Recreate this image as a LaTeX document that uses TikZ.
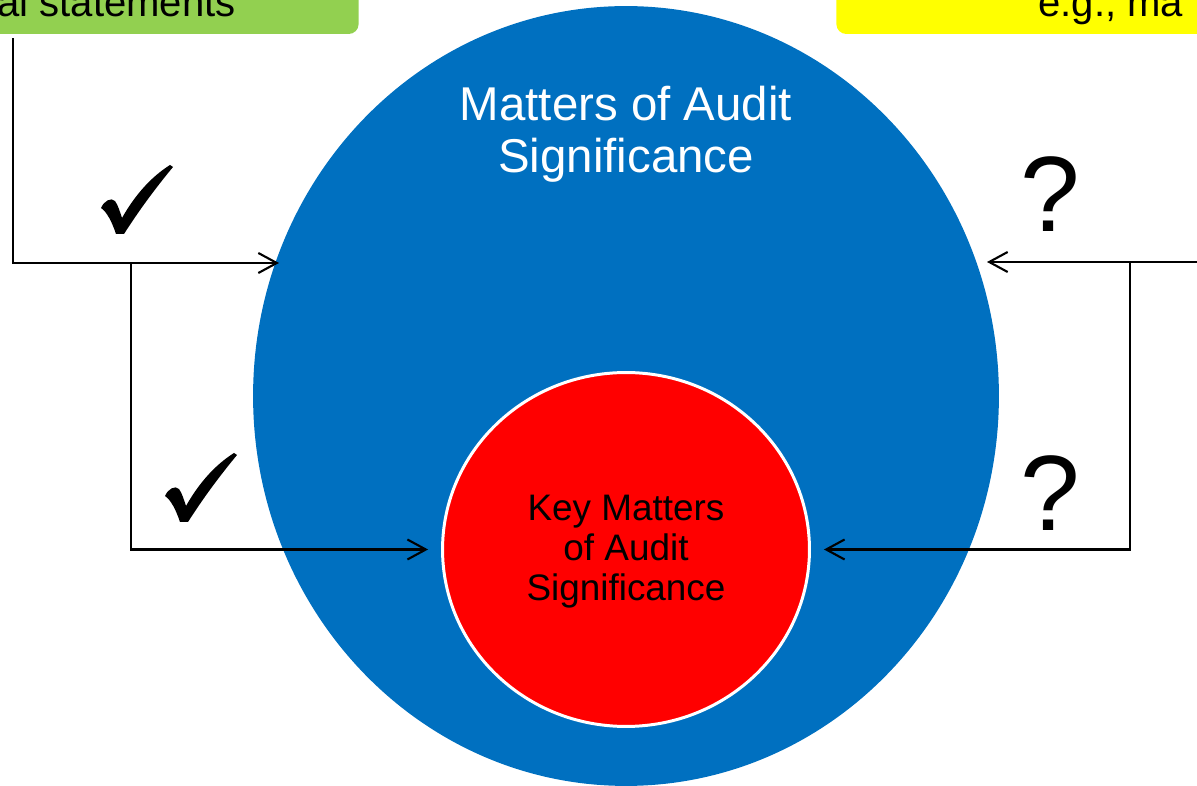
\documentclass[tikz,border=0pt]{standalone}
\usepackage{fontspec}
\setmainfont{Liberation Sans}
\usetikzlibrary{shapes.geometric,arrows.meta}

\definecolor{sigblue}{HTML}{0070C0}
\definecolor{fsgreen}{HTML}{92D050}
\definecolor{egyellow}{HTML}{FFFF00}

\tikzset{
    chkmark/.pic={
        \fill (-36,8) .. controls (-33,1) and (-26,-3) .. (-22,1) .. controls (-19,5) and (-17,12) .. (-15,18)
            .. controls (-2,-5) and (14,-23) .. (33,-35) -- (36,-33)
            .. controls (17,-10) and (1,12) .. (-13,34) -- (-21,34)
            .. controls (-25,22) and (-30,12) .. (-36,8) -- cycle;
    }
}

\begin{document}
\begin{tikzpicture}[x=0.02cm, y=-0.02cm,
    topbox/.style={rounded corners=0.2cm, inner ysep=0.34cm, text depth=0pt, font=\fontsize{22.8}{27}\selectfont},
    conn/.style={line width=1.2pt, -{Straight Barb[length=10.5pt,width=11.4pt]}},
    qmark/.style={inner sep=0pt, anchor=base, font=\fontsize{61}{61}\selectfont}]
    \useasboundingbox (0,0) rectangle (1197,786);
            % boxes at the top, cut by the page
            \node[topbox, fill=fsgreen, inner xsep=2.46cm, anchor=base east] (fsbox) at (359,17) {al statements};
            \node[topbox, fill=egyellow, inner xsep=4.04cm, anchor=base west] (egbox) at (836,17) {e.g., ma};
            % the two sets
            \node[ellipse, fill=sigblue, minimum width=14.92cm, minimum height=15.6cm, inner sep=0pt, outer sep=0pt] (masig) at (626,396) {};
            \node[anchor=north, inner sep=0pt, align=center, text=white, font=\fontsize{27}{29.6}\selectfont] (masigtext) at (626,86) {Matters of Audit\\Significance};
            \node[ellipse, fill=red, draw=white, line width=1.7pt, minimum width=7.34cm, minimum height=7.08cm, inner sep=0pt] (kmasig) at (626,549.5) {};
            \node[align=center, inner sep=0pt, font=\fontsize{21}{22.8}\selectfont] (kmasigtext) at (626,552) {Key Matters\\of Audit\\Significance};
            % connectors
            \coordinate (lbend) at (13,263);
            \coordinate (lsplit) at (131,263);
            \coordinate (lhit) at (279,263);
            \coordinate (rin) at (1210,262);
            \coordinate (rsplit) at (1130,262);
            \coordinate (rhit) at (987,262);
            \draw[conn, shorten <=0.08cm] (fsbox.south -| lbend) -- (lbend) -- (lhit);
            \draw[conn, shorten >=0.26cm] (lsplit) |- (kmasig.west);
            \draw[conn] (rin) -- (rhit);
            \draw[conn, shorten >=0.26cm] (rsplit) |- (kmasig.east);
            % marks
            \pic at (137,200) {chkmark};
            \pic at (201,488) {chkmark};
            \node[qmark] (qa) at (1050,232) {?};
            \node[qmark] (qb) at (1050,531) {?};
        \end{tikzpicture}
\end{document}
